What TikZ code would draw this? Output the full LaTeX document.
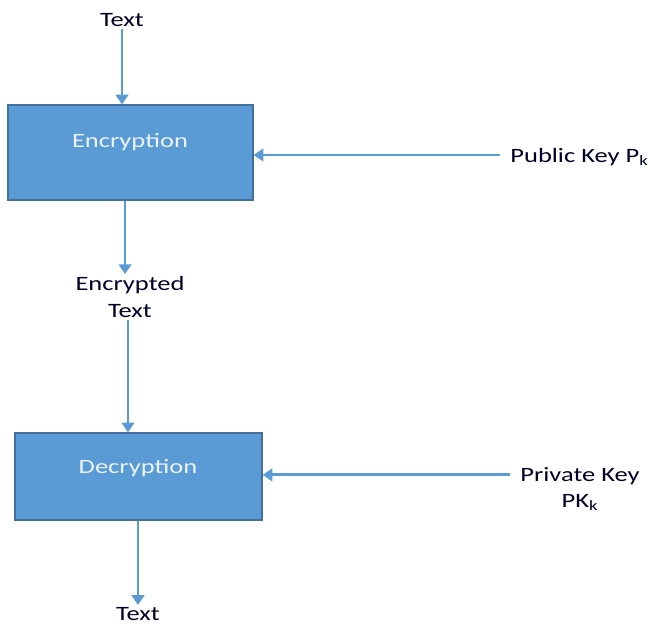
\documentclass[tikz,border=0pt]{standalone}
\usepackage{fontspec}
\setmainfont[FakeStretch=1.3]{Carlito}
\usetikzlibrary{arrows.meta, positioning, calc}
\definecolor{boxfill}{HTML}{5B9BD5}
\definecolor{boxline}{HTML}{41719C}
\definecolor{arrowcolor}{HTML}{5B9BD5}

\begin{document}
\begin{tikzpicture}[
    every node/.style={font=\fontsize{14.5}{19}\selectfont},
    lab/.style={align=center, text=black!85!blue, inner sep=1.5pt},
    stage/.style={rectangle, draw=boxline, fill=boxfill, line width=0.8pt},
    inlab/.style={text=white!88!boxfill},
    arr/.style={arrowcolor, line width=2pt, -{Triangle[length=7pt, width=9pt]}},
]
\useasboundingbox (0, 0) rectangle (16.375, 15.65);

% ---------------------------------------------------------------- the boxes
\node[stage, minimum width=6.125cm, minimum height=2.375cm] (enc) at (3.2625, 11.8375) {};
\node[inlab] (enclab) at (3.25, 12.1) {Encryption};
\node[stage, minimum width=6.175cm, minimum height=2.175cm] (dec) at (3.4625, 3.7375) {};
\node[inlab] (declab) at (3.45, 3.95) {Decryption};

% ---------------------------------------------------------------- the texts
\node[lab] (plain) at (3.05, 15.15) {Text};
\node[lab] (cipher) at (3.25, 8.225) {Encrypted\\Text};
\node[lab] (result) at (3.45, 0.3) {Text};
\node[lab, anchor=west] (pub) at (12.7, 11.725) {Public Key P\textsubscript{k}};
\node[lab] (priv) at (14.5, 3.425) {Private Key\\PK\textsubscript{k}};

% ---------------------------------------------------------------- the arrows
\draw[arr] (plain.south) -- (plain.south |- enc.north);
\draw[arr] ([xshift=-0.1375cm]enc.south) -- ([xshift=-0.125cm]cipher.north);
\draw[arr] ([xshift=-0.05cm]cipher.south) -- ([xshift=-0.2625cm]dec.north);
\draw[arr] (dec.south -| result.north) -- (result.north);
\draw[arr] ([xshift=-0.2cm, yshift=0.05cm]pub.west) coordinate (pubend) -- (pubend -| enc.east);
\draw[arr] ([xshift=-0.2cm, yshift=0.04cm]priv.west |- dec.east) coordinate (privend) -- (privend -| dec.east);
\end{tikzpicture}
\end{document}
